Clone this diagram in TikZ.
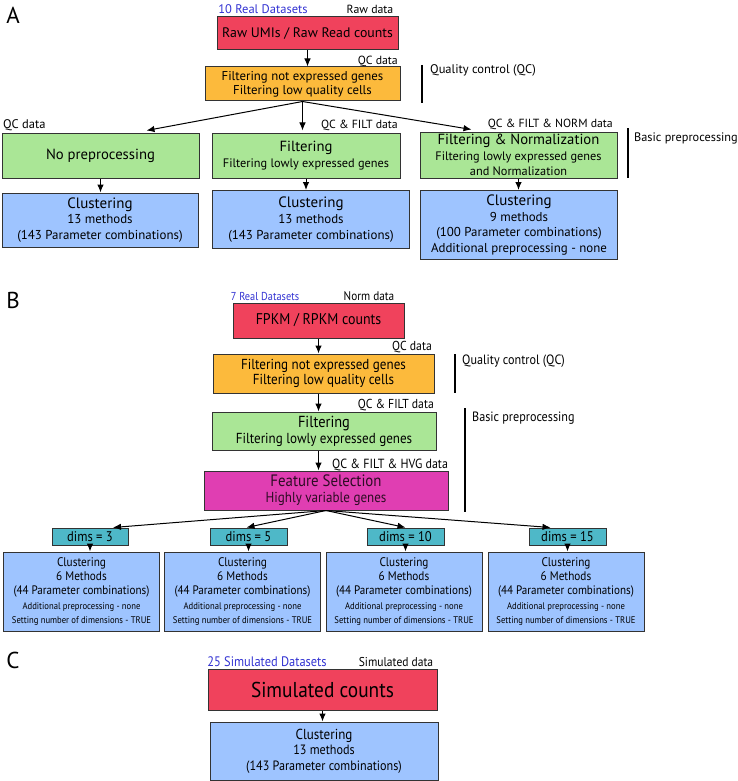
\documentclass[tikz,border=0pt]{standalone}
\usepackage{fontspec}
\setsansfont{PT Sans}
\newfontfamily\condsf{PT Sans}[FakeStretch=0.9]
\usetikzlibrary{positioning,arrows.meta}
\tikzset{every picture/.style={/utils/exec={\sffamily}}}

\definecolor{rawred}{RGB}{240,66,92}
\definecolor{qcorange}{RGB}{252,186,60}
\definecolor{prepgreen}{RGB}{170,230,150}
\definecolor{clustblue}{RGB}{158,196,255}
\definecolor{fsmagenta}{RGB}{224,62,178}
\definecolor{dimteal}{RGB}{78,184,200}
\definecolor{dsblue}{RGB}{50,50,210}

% font size; \fszl takes the baselineskip factor first
\newcommand\fszl[2]{\fontsize{#2}{#1\dimexpr#2pt\relax}\selectfont}
\newcommand\fsz[1]{\fszl{1.22}{#1}}

\tikzset{
  box/.style={draw=black!80, line width=1pt, align=center, inner sep=1pt},
  rawbox/.style={box, fill=rawred},
  qcbox/.style={box, fill=qcorange},
  prepbox/.style={box, fill=prepgreen},
  clustbox/.style={box, fill=clustblue},
  fsbox/.style={box, fill=fsmagenta, text=black!80!fsmagenta},
  dimbox/.style={box, fill=dimteal},
  dset/.style={text=dsblue, font=\fsz{12.5}, inner sep=0pt},
  datalbl/.style={font=\fsz{11.8}, inner sep=0pt},
  panel/.style={font=\fsz{23}, inner sep=0pt},
  arr/.style={-{Latex[length=8pt,width=6.5pt]}, line width=1pt},
  stagebar/.style={line width=1.1pt},
}

\begin{document}
\begin{tikzpicture}[x=1pt,y=-1pt]
  \useasboundingbox (0,0) rectangle (738,781);

  % panel A
  \node [panel] (labA) at (13,15) {A};
  \node [dset] (dsA) at (263,9) {10 Real Datasets};
  \node [datalbl] (rawlblA) at (370,9) {Raw data};
  \node [rawbox, minimum width=181pt, minimum height=33pt, font=\fsz{13.8}] (rawA) at (307.5,33.5) {Raw UMIs / Raw Read counts};
  \node [datalbl, anchor=east] (qclblA) at (398,61) {QC data};
  \node [qcbox, minimum width=195pt, minimum height=34pt, font=\fszl{1.12}{12.8}] (qcA) at (302.5,84) {Filtering not expressed genes\\Filtering low quality cells};
  \draw [stagebar] (422,65) -- (422,103);
  \node [datalbl, anchor=west, font=\fsz{12.5}] (qctxtA) at (430,70) {Quality control (QC)};

  \node [datalbl, anchor=west, font=\fsz{12.5}] (lbl1A) at (3,125) {QC data};
  \node [datalbl, anchor=east] (lbl2A) at (398,125) {QC \& FILT data};
  \node [datalbl, anchor=east] (lbl3A) at (613,124) {QC \& FILT \& NORM data};
  \node [prepbox, minimum width=197pt, minimum height=45pt, font=\fsz{14.7}] (noneA) at (100.5,155.5) {No preprocessing};
  \node [prepbox, minimum width=188pt, minimum height=45pt, font=\fszl{1.3}{12.3}] (filtA) at (306,155.5) {{\fsz{14.7}Filtering}\\Filtering lowly expressed genes};
  \node [prepbox, minimum width=197pt, minimum height=46pt, font=\fszl{1.25}{12.3}] (normA) at (518.5,155) {{\fsz{14.7}Filtering \& Normalization}\\Filtering lowly expressed genes\\and Normalization};
  \draw [stagebar] (628,128) -- (628,178);
  \node [datalbl, anchor=west, font=\fsz{12.3}] (preptxtA) at (634,138) {Basic preprocessing};

  \node [clustbox, minimum width=196pt, minimum height=54pt, font=\fsz{12.9}] (clust1A) at (100,220) {{\fsz{15}Clustering}\\13 methods\\(143 Parameter combinations)};
  \node [clustbox, minimum width=197pt, minimum height=58pt, font=\fsz{12.9}] (clust2A) at (311,219.5) {{\fsz{15}Clustering}\\13 methods\\(143 Parameter combinations)};
  \node [clustbox, minimum width=197pt, minimum height=69pt, font=\fsz{12.9}] (clust3A) at (519,225) {{\fsz{15}Clustering}\\9 methods\\(100 Parameter combinations)\\Additional preprocessing - none};

  \draw [arr] (rawA.south) -- (rawA.south |- qcA.north);
  \draw [arr] (qcA.south) -- ([xshift=-53pt, yshift=2pt]noneA.north east);
  \draw [arr] (qcA.south) -- ([yshift=2pt]qcA.south |- filtA.north);
  \draw [arr] (qcA.south) -- ([xshift=52pt, yshift=2pt]normA.north west);
  \draw [arr] (noneA.south) -- (noneA.south |- clust1A.north);
  \draw [arr] (filtA.south) -- (filtA.south |- clust2A.north);
  \draw [arr] (normA.south) -- (normA.south |- clust3A.north);

  % panel B
  \node [panel] (labB) at (13,300) {B};
  \begin{scope}[every node/.append style={/utils/exec={\condsf}}]
  \node [dset, font=\fsz{11.5}] (dsB) at (265,296) {7 Real Datasets};
  \node [datalbl, font=\fsz{12.5}] (normlblB) at (369,296) {Norm data};
  \node [rawbox, minimum width=171pt, minimum height=35pt, font=\fsz{15.5}] (fpkmB) at (318.5,320.5) {FPKM / RPKM counts};
  \node [datalbl, anchor=east, font=\fsz{13}] (qclblB) at (432,347) {QC data};
  \node [qcbox, minimum width=221pt, minimum height=39pt, font=\fszl{1.08}{14.5}] (qcB) at (323.5,373.5) {Filtering not expressed genes\\Filtering low quality cells};
  \draw [stagebar] (455,354) -- (455,393);
  \node [datalbl, anchor=west, font=\fsz{13.5}] (qctxtB) at (462,361) {Quality control (QC)};
  \node [datalbl, anchor=east, font=\fsz{13}] (filtlblB) at (434,405) {QC \& FILT data};
  \node [prepbox, minimum width=224pt, minimum height=38pt, font=\fszl{1.1}{14.5}] (filtB) at (324,431) {{\fsz{16}Filtering}\\Filtering lowly expressed genes};
  \draw [stagebar] (465,408) -- (465,512);
  \node [datalbl, anchor=west, font=\fsz{13.5}] (preptxtB) at (472,418) {Basic preprocessing};
  \node [datalbl, anchor=west, font=\fsz{13.3}] (hvglblB) at (332,465) {QC \& FILT \& HVG data};
  \node [fsbox, minimum width=244pt, minimum height=39pt, font=\fszl{1.1}{14.5}] (fsB) at (326,490.5) {{\fsz{16.5}Feature Selection}\\Highly variable genes};

  \node [dimbox, minimum width=76pt, minimum height=17pt, font=\fsz{14}] (dim3B) at (90,536.5) {dims = 3};
  \node [dimbox, minimum width=77pt, minimum height=17pt, font=\fsz{14}] (dim5B) at (248.5,536.5) {dims = 5};
  \node [dimbox, minimum width=77pt, minimum height=17pt, font=\fsz{14}] (dim10B) at (405.5,536.5) {dims = 10};
  \node [dimbox, minimum width=77pt, minimum height=17pt, font=\fsz{14}] (dim15B) at (567.5,536.5) {dims = 15};

  \foreach \nm/\cx in {1/81.5, 2/242.5, 3/404, 4/566}
    \node [clustbox, minimum width=156pt, minimum height=79pt, font=\fszl{1.15}{12.5}] (clust\nm B) at (\cx,591.5)
      {Clustering\\6 Methods\\{\fsz{12.3}(44 Parameter combinations)}\\{\fsz{9.6}Additional preprocessing - none}\\{\fsz{9.6}Setting number of dimensions - TRUE}};
  \end{scope}

  \draw [arr] (fpkmB.south) -- (fpkmB.south |- qcB.north);
  \draw [arr] (fpkmB.south |- qcB.south) -- (fpkmB.south |- filtB.north);
  \draw [arr] (fpkmB.south |- filtB.south) -- (fpkmB.south |- fsB.north);
  \draw [arr] (fsB.south) -- ([xshift=23pt]dim3B.north);
  \draw [arr] (fsB.south) -- ([xshift=-2pt]dim5B.north);
  \draw [arr] (fsB.south) -- (dim10B.north);
  \draw [arr] (fsB.south) -- ([xshift=-17pt]dim15B.north);
  \draw [arr] (dim3B.south) -- (dim3B.south |- clust1B.north);
  \draw [arr] (dim5B.south) -- (dim5B.south |- clust2B.north);
  \draw [arr] (dim10B.south) -- (dim10B.south |- clust3B.north);
  \draw [arr] (dim15B.south) -- (dim15B.south |- clust4B.north);

  % panel C
  \node [panel] (labC) at (13,660) {C};
  \begin{scope}[every node/.append style={/utils/exec={\condsf}}]
  \node [dset, font=\fsz{13.8}] (dsC) at (267,662) {25 Simulated Datasets};
  \node [datalbl, font=\fsz{12.8}] (simlblC) at (396,662) {Simulated data};
  \node [rawbox, minimum width=229pt, minimum height=41pt, font=\fsz{21.5}] (simC) at (322.5,689.5) {Simulated counts};
  \node [clustbox, minimum width=228pt, minimum height=58pt, font=\fszl{1.15}{13.5}] (clustC) at (324,751) {{\fsz{14.5}Clustering}\\13 methods\\(143 Parameter combinations)};
  \end{scope}
  \draw [arr] (simC.south) -- (simC.south |- clustC.north);

\end{tikzpicture}
\end{document}
